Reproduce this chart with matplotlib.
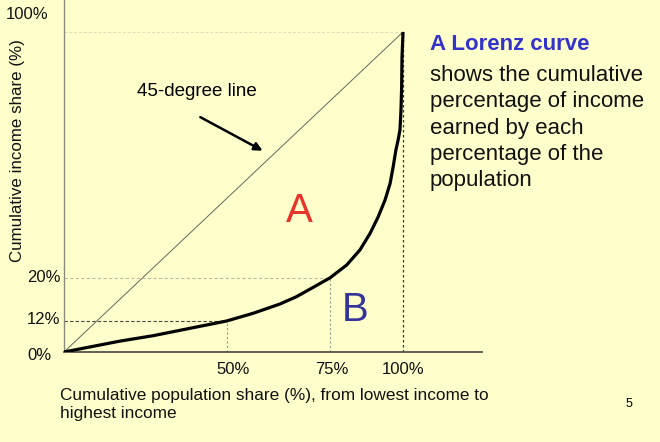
import matplotlib
matplotlib.use("Agg")
import matplotlib.pyplot as plt

plt.rcParams["font.family"] = ["Liberation Sans", "DejaVu Sans"]

# Lorenz curve (axis units, 45-degree line = x)
curve_x = [0, 16.5, 26.3, 36.2, 48.0, 55.8, 63.7, 68.6, 73.5, 78.5, 83.4,
           87.3, 90.3, 92.7, 94.7, 96.2, 97.1, 97.9, 98.6, 99.1, 99.4,
           99.6, 99.7, 100]
curve_y = [0, 3.4, 5.1, 7.2, 9.7, 12.1, 15.0, 17.3, 20.2, 23.2, 27.2,
           31.9, 37.1, 42.3, 47.5, 52.7, 57.9, 63.1, 66.5, 69.4, 75.6,
           82.9, 91.9, 100]

# guide lines: (x, y) where they meet the curve
mark_50 = (48.0, 9.7)
mark_75 = (78.5, 23.2)

x_tick_pos = [50, 79, 100]
x_tick_labels = ["50%", "75%", "100%"]
y_label_pos = [105.6, 23.4, 10, -1]
y_label_text = ["100%", "20%", "12%", "0%"]
y_label_left = [6, 27, 27, 27]   # figure pixels

BG = "#FFFFCC"

fig = plt.figure(figsize=(6.6, 4.42), dpi=100, facecolor=BG)
ax = fig.add_axes([64 / 660, 90 / 442, 418 / 660, 352 / 442], facecolor=BG)
ax.set_xlim(0, 123.3)
ax.set_ylim(0, 110)

for s in ["top", "right"]:
    ax.spines[s].set_visible(False)
ax.spines["left"].set_color("#8a8a7a")
ax.spines["left"].set_linewidth(1.0)
ax.spines["bottom"].set_color("#55554a")
ax.spines["bottom"].set_linewidth(1.3)
ax.set_yticks([])
ax.set_xticks(x_tick_pos)
ax.set_xticklabels(x_tick_labels, fontsize=12, color="#111111")
ax.tick_params(axis="x", length=0, pad=7)

# 45-degree line
ax.plot([0, 100], [0, 100], color="#66665a", lw=0.7)

# guide lines
ax.plot([0, 100], [100, 100], color="#ddddbb", lw=0.7, ls=(0, (3, 2)))
ax.plot([100, 100], [0, 100], color="#333333", lw=0.9, ls=(0, (2, 2)))
ax.plot([0, mark_50[0]], [mark_50[1]] * 2, color="#444444", lw=0.8, ls=(0, (3, 2)))
ax.plot([mark_50[0]] * 2, [0, mark_50[1]], color="#999988", lw=0.8, ls=(0, (2, 2)))
ax.plot([0, mark_75[0]], [mark_75[1]] * 2, color="#bbbbaa", lw=0.8, ls=(0, (3, 2)))
ax.plot([mark_75[0]] * 2, [0, mark_75[1]], color="#999988", lw=0.8, ls=(0, (2, 2)))

# Lorenz curve
ax.plot(curve_x, curve_y, color="black", lw=2.3, solid_joinstyle="round",
        solid_capstyle="butt", zorder=5)

# y labels
for pos, txt, left in zip(y_label_pos, y_label_text, y_label_left):
    ax.annotate(txt, xy=(left, pos), xycoords=("figure pixels", "data"),
                ha="left", va="center", fontsize=12, color="#111111",
                annotation_clip=False)

# area labels
ax.text(69.5, 44, "A", color="#E8322A", fontsize=29, ha="center", va="center")
ax.text(85.9, 13, "B", color="#333399", fontsize=29, ha="center", va="center")

# 45-degree annotation
ax.annotate("", xy=(59.3, 62.5), xytext=(39.5, 73.8),
            arrowprops=dict(arrowstyle="-|>", color="black", lw=1.8,
                            mutation_scale=12))
ax.text(39.1, 81.3, "45-degree line", fontsize=13.5, ha="center", va="center")

# axis titles
fig.text(18 / 660, 1 - 151 / 442, "Cumulative income share (%)", rotation=90,
         fontsize=12.2, ha="center", va="center", color="#111111")
fig.text(60 / 660, 1 - 404.5 / 442,
         "Cumulative population share (%), from lowest income to\nhighest income",
         fontsize=12.4, ha="left", va="center", color="#111111", linespacing=1.17)

# explanation text
fig.text(430 / 660, 1 - 45 / 442, "A Lorenz curve", fontsize=16, fontweight="bold",
         color="#3333CC", ha="left", va="center")
fig.text(430 / 660, 1 - 128 / 442,
         "shows the cumulative\npercentage of income\nearned by each\npercentage of the\npopulation",
         fontsize=16, color="#111111", ha="left", va="center", linespacing=1.33)

fig.text(629 / 660, 1 - 404 / 442, "5", fontsize=9, ha="center", va="center")

fig.savefig("out.png", dpi=100, facecolor=BG)
